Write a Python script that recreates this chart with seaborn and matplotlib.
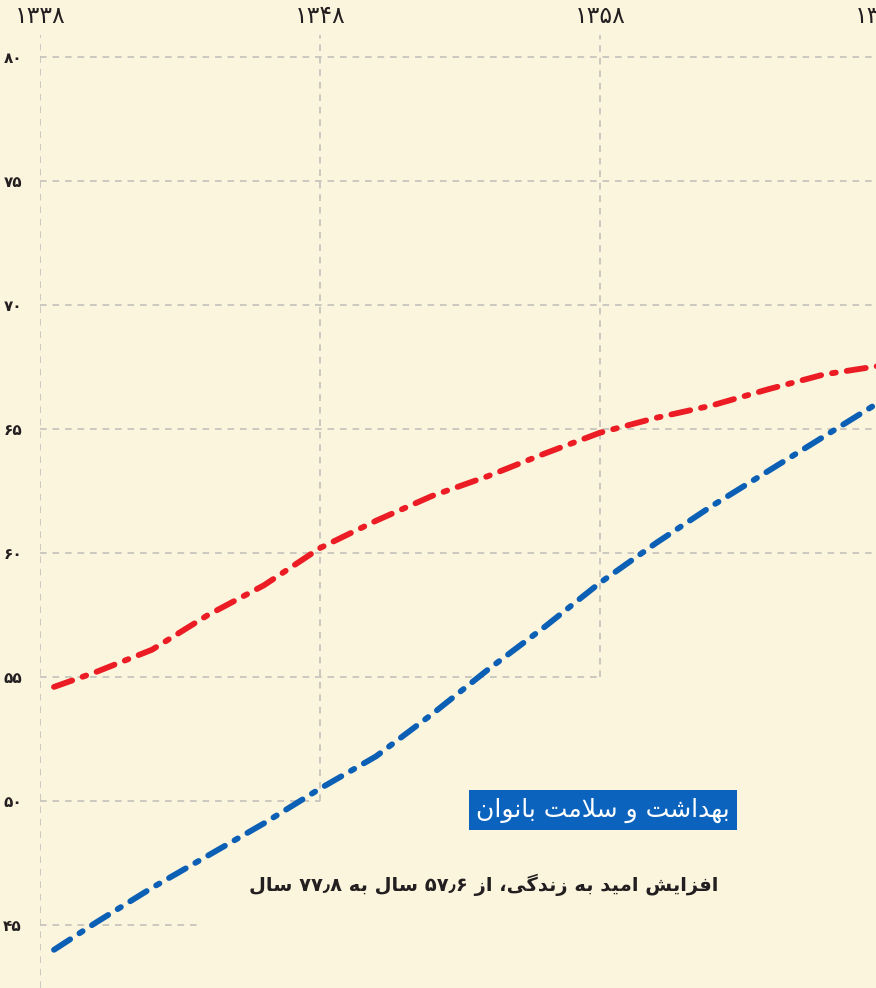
import re
import matplotlib
matplotlib.use("Agg")
import matplotlib.pyplot as plt
import seaborn as sns
import pandas as pd

# values (life expectancy by year, solar hijri)
years = [1338.5, 1340, 1342, 1344, 1346, 1348, 1350, 1352, 1354, 1356,
         1358, 1360, 1362, 1364, 1366, 1368]
red_values = [54.6, 55.2, 56.1, 57.5, 58.7, 60.2, 61.3, 62.3, 63.1, 64.0,
              64.85, 65.45, 65.95, 66.6, 67.2, 67.55]
blue_values = [44.0, 45.1, 46.5, 47.8, 49.1, 50.5, 51.8, 53.5, 55.3, 57.0,
               58.8, 60.4, 61.9, 63.3, 64.7, 66.1]
x_ticks = [1338, 1348, 1358, 1368]
y_ticks = [45, 50, 55, 60, 65, 70, 75, 80]
badge_text = "بهداشت و سلامت بانوان"
caption_text = "افزایش امید به زندگی، از ۵۷٫۶ سال به ۷۷٫۸ سال"

BG = "#FCF5DE"
RED = "#EC1C24"
BLUE = "#0B5FB4"
GRID = "#C3C1BC"

# --- minimal arabic/persian shaping (matplotlib has no RTL layout) ---
FORMS = {
    "ا": ("\uFE8D", "\uFE8E", None, None),
    "د": ("\uFEA9", "\uFEAA", None, None),
    "ز": ("\uFEAF", "\uFEB0", None, None),
    "و": ("\uFEED", "\uFEEE", None, None),
    "ب": ("\uFE8F", "\uFE90", "\uFE91", "\uFE92"),
    "ت": ("\uFE95", "\uFE96", "\uFE97", "\uFE98"),
    "س": ("\uFEB1", "\uFEB2", "\uFEB3", "\uFEB4"),
    "ش": ("\uFEB5", "\uFEB6", "\uFEB7", "\uFEB8"),
    "ف": ("\uFED1", "\uFED2", "\uFED3", "\uFED4"),
    "ل": ("\uFEDD", "\uFEDE", "\uFEDF", "\uFEE0"),
    "م": ("\uFEE1", "\uFEE2", "\uFEE3", "\uFEE4"),
    "ن": ("\uFEE5", "\uFEE6", "\uFEE7", "\uFEE8"),
    "ه": ("\uFEE9", "\uFEEA", "\uFEEB", "\uFEEC"),
    "ی": ("\uFBFC", "\uFBFD", "\uFBFE", "\uFBFF"),
    "گ": ("\uFB92", "\uFB93", "\uFB94", "\uFB95"),
}
LAM_ALEF = ("\uFEFB", "\uFEFC", None, None)
DIGITS = "۰۱۲۳۴۵۶۷۸۹"


def shape(text):
    units = []
    i = 0
    while i < len(text):
        if text[i] == "ل" and i + 1 < len(text) and text[i + 1] == "ا":
            units.append(("", LAM_ALEF))
            i += 2
        else:
            units.append((text[i], FORMS.get(text[i])))
            i += 1
    out = []
    for k, (c, f) in enumerate(units):
        if f is None:
            out.append(c)
            continue
        prev = units[k - 1][1] if k > 0 else None
        nxt = units[k + 1][1] if k + 1 < len(units) else None
        jp = prev is not None and prev[2] is not None
        jn = f[2] is not None and nxt is not None
        if jp and jn:
            out.append(f[3])
        elif jp:
            out.append(f[1])
        elif jn:
            out.append(f[2])
        else:
            out.append(f[0])
    return "".join(out)


def rtl(text):
    tokens = re.findall("[" + DIGITS + "٫]+|[^" + DIGITS + "٫]+", shape(text))
    return "".join(t if t[0] in DIGITS else t[::-1] for t in reversed(tokens))


def fa_num(n):
    return str(n).translate(str.maketrans("0123456789", DIGITS))


sns.set_theme(style="white")
plt.rcParams["font.family"] = ["DejaVu Sans"]

fig = plt.figure(figsize=(8.76, 9.88), dpi=100, facecolor=BG)
# axes span x = 1338..1368 (28 px / year), y down to the bottom edge
ax = fig.add_axes([40 / 876, 0, 840 / 876, 1 - 35 / 988])
ax.set_facecolor(BG)
ax.set_xlim(1338, 1368)
ax.set_ylim(80 - 931 / 24.8, 80 + 22 / 24.8)
for s in ax.spines.values():
    s.set_visible(False)

# stepped dashed grid
grid_kw = dict(color=GRID, linewidth=1.2, linestyle=(0, (4, 3.5)), zorder=1)
h_right = {45: 1343.7, 50: 1348, 55: 1358}
for yv in y_ticks:
    ax.hlines(yv, 1338, h_right.get(yv, 1368), **grid_kw)
v_bottom = {1338: ax.get_ylim()[0], 1348: 50, 1358: 55}
for xv in x_ticks[:-1]:
    ax.vlines(xv, v_bottom[xv], ax.get_ylim()[1], **grid_kw)

df = pd.DataFrame({"year": years, "red": red_values, "blue": blue_values})
dash = (0, (3.3, 1.9, 0.65, 1.9))
sns.lineplot(data=df, x="year", y="red", ax=ax, color=RED, linewidth=4.2,
             linestyle=dash, dash_capstyle="round", zorder=3)
sns.lineplot(data=df, x="year", y="blue", ax=ax, color=BLUE, linewidth=4.2,
             linestyle=dash, dash_capstyle="round", zorder=3)

ax.xaxis.tick_top()
ax.set_xticks(x_ticks)
ax.set_xticklabels([fa_num(v) for v in x_ticks], fontsize=17, color="#231F20")
ax.set_yticks(y_ticks)
ax.set_yticklabels([fa_num(v) for v in y_ticks], fontsize=11,
                   fontweight="bold", color="#231F20")
ax.tick_params(axis="x", length=0, pad=5)
ax.tick_params(axis="y", length=0, pad=13)
ax.set_xlabel("")
ax.set_ylabel("")

fig.text(603 / 876, 1 - 810 / 988, rtl(badge_text), ha="center", va="center",
         fontsize=18, color="white",
         bbox=dict(boxstyle="square,pad=0.28", fc="#0B63BD", ec="none"))
fig.text(718 / 876, 1 - 885 / 988, rtl(caption_text), ha="right", va="center",
         fontsize=14, fontweight="bold", color="#231F20")

fig.savefig("out.png", dpi=100, facecolor=BG)
